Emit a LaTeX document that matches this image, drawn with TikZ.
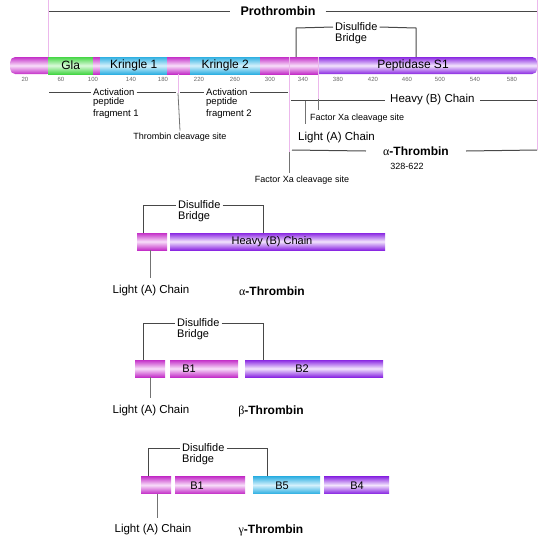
\documentclass[tikz,border=0pt]{standalone}
\usepackage{fontspec}
\setmainfont{Liberation Sans}
\newfontfamily\grk{Liberation Serif}
\usepackage{tikz}

\definecolor{pmag}{RGB}{196,48,200}
\definecolor{pmagL}{RGB}{248,222,250}
\definecolor{ppur}{RGB}{138,40,226}
\definecolor{ppurL}{RGB}{242,228,253}
\definecolor{pcyan}{RGB}{48,176,226}
\definecolor{pcyanL}{RGB}{212,241,252}
\definecolor{pgrn}{RGB}{70,214,70}
\definecolor{pgrnL}{RGB}{218,250,218}
\definecolor{pguide}{RGB}{236,184,236}
\definecolor{pline}{RGB}{72,72,72}

\tikzset{
	seg/.style={shape=rectangle, inner sep=0pt, minimum height=17pt, anchor=west, font=\fontsize{12}{14}\selectfont},
	magseg/.style={seg, top color=pmag, bottom color=pmag, middle color=pmagL},
	purseg/.style={seg, top color=ppur, bottom color=ppur, middle color=ppurL},
	cyanseg/.style={seg, top color=pcyan, bottom color=pcyan, middle color=pcyanL},
	grnseg/.style={seg, top color=pgrn, bottom color=pgrn, middle color=pgrnL},
	seglab/.style={inner sep=0pt, font=\fontsize{11}{13}\selectfont},
	tick/.style={inner sep=0pt, text=black!60, font=\fontsize{6}{7}\selectfont},
	big/.style={inner sep=2pt, font=\fontsize{11.5}{13}\selectfont},
	small/.style={inner sep=2pt, font=\fontsize{9}{11}\selectfont},
	act/.style={inner sep=2pt, font=\fontsize{9.5}{11.5}\selectfont},
	title/.style={inner sep=0pt, font=\fontsize{12}{14}\selectfont\bfseries},
	gline/.style={draw=pline, line width=1pt},
	tline/.style={draw=black!55, line width=0.8pt},
	guide/.style={draw=pguide, line width=0.7pt}
}

\begin{document}
\begin{tikzpicture}[x=1pt, y=-1pt]
	\useasboundingbox (0, 0) rectangle (546, 550);

	% prothrombin bar
	\node[magseg, minimum width=42pt, rounded corners=5pt] (m1) at (10, 65.5) {};
	\node[grnseg, minimum width=45pt] (gla) at (48, 65.5) {Gla};
	\node[magseg, minimum width=7pt] (m2) at (93, 65.5) {};
	\node[cyanseg, minimum width=67pt] (k1) at (100, 65.5) {Kringle 1};
	\node[magseg, minimum width=23pt] (m3) at (167, 65.5) {};
	\node[cyanseg, minimum width=70pt] (k2) at (190, 65.5) {Kringle 2};
	\node[purseg, minimum width=225pt, rounded corners=5pt] (pep) at (312, 65.5) {};
	\node[magseg, minimum width=58pt] (m4) at (260, 65.5) {};
	\node[seglab, font=\fontsize{12}{14}\selectfont] (peplab) at (413, 65.5) {Peptidase S1};

	\node[tick] (t20) at (25, 79) {20};
	\node[tick] (t60) at (61, 79) {60};
	\node[tick] (t100) at (93, 79) {100};
	\node[tick] (t140) at (131, 79) {140};
	\node[tick] (t180) at (163, 79) {180};
	\node[tick] (t220) at (199, 79) {220};
	\node[tick] (t260) at (235, 79) {260};
	\node[tick] (t300) at (270, 79) {300};
	\node[tick] (t340) at (303, 79) {340};
	\node[tick] (t380) at (338, 79) {380};
	\node[tick] (t420) at (373, 79) {420};
	\node[tick] (t460) at (407, 79) {460};
	\node[tick] (t500) at (440, 79) {500};
	\node[tick] (t540) at (475, 79) {540};
	\node[tick] (t580) at (512, 79) {580};

	% guide lines
	\coordinate (g0) at (48, 0);
	\coordinate (g1) at (537, 0);
	\coordinate (g2) at (537, 150);
	\coordinate (tc0) at (178, 74);
	\coordinate (tc1) at (178, 93);
	\coordinate (fx0) at (289, 57);
	\coordinate (fx1) at (289, 152);
	\coordinate (fx2) at (289, 173);
	\coordinate (hx0) at (318, 57);
	\coordinate (hx1) at (318, 99);
	\coordinate (hx2) at (318, 110);
	\draw[guide] (g0) -- (gla.north west);
	\draw[guide] (g1) -- (g2);
	\draw[guide] (tc0) -- (tc1);
	\draw[guide] (fx0) -- (fx1);
	\draw[guide] (hx0) -- (hx1);

	% prothrombin title
	\node[title, font=\fontsize{12.5}{14}\selectfont\bfseries, inner xsep=10pt] (pro) at (278, 11) {Prothrombin};
	\coordinate (pro0) at (49, 11);
	\coordinate (pro1) at (537, 11);
	\draw[gline] (pro0) -- (pro.west);
	\draw[gline] (pro.east) -- (pro1);

	% disulfide bridge
	\node[big, font=\fontsize{11}{13}\selectfont, anchor=west] (ds) at (333, 27) {Disulfide};
	\node[big, font=\fontsize{11}{13}\selectfont, anchor=north west, inner ysep=0pt] (br) at (ds.south west) {Bridge};
	\coordinate (dsl) at (296, 28);
	\coordinate (dsr) at (416, 28);
	\draw[gline] (m4.north -| dsl) -- (dsl) -- (ds.west);
	\draw[gline] (ds.east) -- (dsr) -- (pep.north -| dsr);

	% activation peptides
	\node[act, anchor=west] (act1) at (91, 92) {Activation};
	\node[act, anchor=north west, align=left, inner ysep=0pt] (frag1) at (act1.south west) {peptide\\fragment 1};
	\coordinate (a1l) at (49, 92);
	\coordinate (a1r) at (176, 92);
	\draw[gline] (a1l) -- (act1.west);
	\draw[gline] (act1.east) -- (a1r);

	\node[act, anchor=west] (act2) at (204, 92) {Activation};
	\node[act, anchor=north west, align=left, inner ysep=0pt] (frag2) at (act2.south west) {peptide\\fragment 2};
	\coordinate (a2l) at (180, 92);
	\coordinate (a2r) at (288, 92);
	\draw[gline] (a2l) -- (act2.west);
	\draw[gline] (act2.east) -- (a2r);

	\node[small] (tcs) at (180, 137) {Thrombin cleavage site};
	\draw[tline] (tc1) -- (tcs.north);

	% heavy chain, light chain
	\node[big, anchor=west, inner xsep=5pt] (hvy) at (385, 100) {Heavy (B) Chain};
	\coordinate (hv0) at (291, 100);
	\coordinate (hv1) at (537, 100);
	\draw[gline] (hv0) -- (hvy.west);
	\draw[gline] (hvy.east) -- (hv1);

	\node[small, anchor=west] (fxa1) at (308, 118) {Factor Xa cleavage site};
	\draw[tline] (hx1) -- (hx2);

	\node[big, anchor=west] (lc0) at (296, 138) {Light (A) Chain};
	\coordinate (lc0a) at (305, 101);
	\coordinate (lc0b) at (305, 124);
	\draw[tline] (lc0a) -- (lc0b);

	% alpha-thrombin
	\node[title, inner xsep=17pt] (ath) at (416, 151) {{\grk\mdseries α}-Thrombin};
	\node[small] (num) at (407, 166) {328-622};
	\coordinate (at0) at (292, 150);
	\coordinate (at1) at (537, 150);
	\draw[gline] (at0) -- (ath.west);
	\draw[gline] (ath.east) -- (at1);

	\node[small] (fxa2) at (302, 180) {Factor Xa cleavage site};
	\draw[tline] (fx1) -- (fx2);

	% alpha
	\node[magseg, minimum width=30pt] (la) at (137, 241.5) {};
	\node[purseg, minimum width=215pt] (ha) at (170, 241.5) {};
	\node[seglab] (halab) at (272, 242) {Heavy (B) Chain};
	\node[big, font=\fontsize{11}{13}\selectfont, anchor=west] (dsa) at (176, 205) {Disulfide};
	\node[big, font=\fontsize{11}{13}\selectfont, anchor=north west, inner ysep=0pt] (bra) at (dsa.south west) {Bridge};
	\coordinate (dsal) at (143, 205);
	\coordinate (dsar) at (263, 205);
	\draw[gline] (la.north -| dsal) -- (dsal) -- (dsa.west);
	\draw[gline] (dsa.east) -- (dsar) -- (ha.north -| dsar);
	\node[big] (lca) at (151, 291) {Light (A) Chain};
	\coordinate (lcat) at (150, 278);
	\draw[tline] (la.south -| lcat) -- (lcat);
	\node[title] (tha) at (272, 291) {{\grk\mdseries α}-Thrombin};

	% beta
	\node[magseg, minimum width=30pt] (lb) at (135, 368.5) {};
	\node[magseg, minimum width=68pt] (b1b) at (170, 368.5) {};
	\node[purseg, minimum width=138pt] (b2b) at (245, 368.5) {};
	\node[seglab] (b1blab) at (189, 369) {B1};
	\node[seglab] (b2blab) at (302, 369) {B2};
	\node[big, font=\fontsize{11}{13}\selectfont, anchor=west] (dsb) at (175, 323) {Disulfide};
	\node[big, font=\fontsize{11}{13}\selectfont, anchor=north west, inner ysep=0pt] (brb) at (dsb.south west) {Bridge};
	\coordinate (dsbl) at (143, 323);
	\coordinate (dsbr) at (263, 323);
	\draw[gline] (lb.north -| dsbl) -- (dsbl) -- (dsb.west);
	\draw[gline] (dsb.east) -- (dsbr) -- (b2b.north -| dsbr);
	\node[big] (lcb) at (151, 411) {Light (A) Chain};
	\coordinate (lcbt) at (150, 398);
	\draw[tline] (lb.south -| lcbt) -- (lcbt);
	\node[title] (thb) at (271, 411) {{\grk\mdseries β}-Thrombin};

	% gamma
	\node[magseg, minimum width=30pt] (lg) at (141, 485) {};
	\node[magseg, minimum width=70pt] (b1g) at (175, 485) {};
	\node[cyanseg, minimum width=67pt] (b5g) at (253, 485) {};
	\node[purseg, minimum width=65pt] (b4g) at (324, 485) {};
	\node[seglab] (b1glab) at (197, 485.5) {B1};
	\node[seglab] (b5glab) at (282, 485.5) {B5};
	\node[seglab] (b4glab) at (357, 485.5) {B4};
	\node[big, font=\fontsize{11}{13}\selectfont, anchor=west] (dsg) at (180, 448) {Disulfide};
	\node[big, font=\fontsize{11}{13}\selectfont, anchor=north west, inner ysep=0pt] (brg) at (dsg.south west) {Bridge};
	\coordinate (dsgl) at (148, 448);
	\coordinate (dsgr) at (267, 448);
	\draw[gline] (lg.north -| dsgl) -- (dsgl) -- (dsg.west);
	\draw[gline] (dsg.east) -- (dsgr) -- (b5g.north -| dsgr);
	\node[big] (lcg) at (153, 530) {Light (A) Chain};
	\coordinate (lcgt) at (157, 518);
	\draw[tline] (lg.south -| lcgt) -- (lcgt);
	\node[title] (thg) at (271, 530) {{\grk\mdseries γ}-Thrombin};

\end{tikzpicture}
\end{document}
